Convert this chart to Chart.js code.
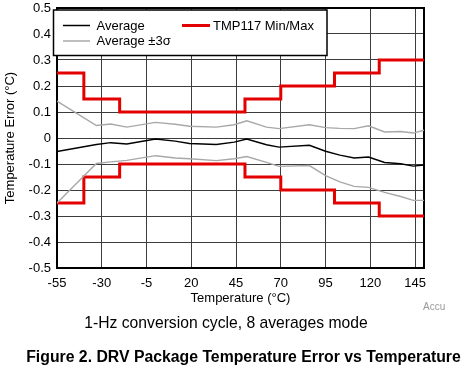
<!DOCTYPE html>
<html>
<head>
<meta charset="utf-8">
<script src="https://cdn.jsdelivr.net/npm/chart.js@4/dist/chart.umd.min.js"></script>
<style>
  html, body { margin: 0; padding: 0; background: #fff; }
  body { width: 464px; height: 370px; position: relative; overflow: hidden; font-family: "Liberation Sans", Arial, sans-serif; }
  #wrap { position: absolute; left: 0; top: 0; width: 464px; height: 310px; }
  .cap { position: absolute; white-space: nowrap; color: #000; }
  #accu { left: 423px; top: 301px; font-size: 10px; color: #9a9a9a; }
  #sub { left: 0; width: 452px; text-align: center; top: 314px; font-size: 15.7px; }
  #fig { left: 0; width: 487px; text-align: center; top: 348px; font-size: 15.8px; font-weight: bold; }
</style>
</head>
<body>
<div id="wrap"><canvas id="c" width="464" height="310"></canvas></div>
<div class="cap" id="accu">Accu</div>
<div class="cap" id="sub">1-Hz conversion cycle, 8 averages mode</div>
<div class="cap" id="fig">Figure 2. DRV Package Temperature Error vs Temperature</div>
<script>
// ---- data ----
const xTicks = [-55, -30, -5, 20, 45, 70, 95, 120, 145];
const yTicks = [-0.5, -0.4, -0.3, -0.2, -0.1, 0, 0.1, 0.2, 0.3, 0.4, 0.5];

const stepTemps = [-55, -40, -20, 50, 70, 100, 125, 150];
const tmpMax = [0.25, 0.15, 0.10, 0.15, 0.20, 0.25, 0.30, 0.30];
const tmpMin = [-0.25, -0.15, -0.10, -0.15, -0.20, -0.25, -0.30, -0.30];

const curveTemps = [-55, -33, -25, -16, 0, 11, 19, 34, 44, 51, 62, 69, 86, 95, 103, 111, 119, 128, 137, 144, 150];
const average = [-0.052, -0.025, -0.018, -0.023, -0.004, -0.012, -0.021, -0.025, -0.016, -0.004, -0.026, -0.035, -0.028, -0.051, -0.066, -0.077, -0.073, -0.094, -0.099, -0.108, -0.104];
const avgPlus3s = [0.142, 0.048, 0.054, 0.042, 0.060, 0.053, 0.045, 0.042, 0.051, 0.066, 0.042, 0.036, 0.051, 0.040, 0.037, 0.036, 0.047, 0.023, 0.025, 0.019, 0.030];
const avgMinus3s = [-0.250, -0.098, -0.092, -0.086, -0.068, -0.077, -0.080, -0.087, -0.080, -0.071, -0.094, -0.109, -0.106, -0.145, -0.169, -0.186, -0.190, -0.209, -0.225, -0.240, -0.240];

const labels = { avg: 'Average', sigma: 'Average \u00B13\u03C3', minmax: 'TMP117 Min/Max' };

// ---- styles ----
const RED = '#e30000', GRAY = '#a8a8a8', BLACK = '#000000', GRID = '#3c3c3c';
const FONT = '"Liberation Sans", Arial, sans-serif';

const pts = (xs, ys) => xs.map((x, i) => ({ x: x, y: ys[i] }));

const frameAndLegend = {
  id: 'frameAndLegend',
  beforeDatasetsDraw(chart) {
    const { ctx, chartArea: a } = chart;
    ctx.save();
    ctx.strokeStyle = '#000';
    ctx.lineWidth = 2;
    ctx.strokeRect(a.left, a.top, a.right - a.left, a.bottom - a.top);
    ctx.restore();
  },
  afterDraw(chart) {
    const { ctx, chartArea: a } = chart;
    ctx.save();
    const bx = a.left - 3.5, by = a.top + 2, bw = 327 - bx, bh = 55.5 - by;
    ctx.fillStyle = '#fff';
    ctx.fillRect(bx, by, bw, bh);
    ctx.strokeStyle = '#000';
    ctx.lineWidth = 1.5;
    ctx.strokeRect(bx, by, bw, bh);
    const items = [
      { x: 63, y: 25.5, len: 27, color: BLACK, w: 1.5, text: labels.avg, tx: 96.5 },
      { x: 63, y: 41, len: 27, color: GRAY, w: 1.5, text: labels.sigma, tx: 96.5 },
      { x: 182, y: 25.5, len: 28, color: RED, w: 3, text: labels.minmax, tx: 213 }
    ];
    ctx.font = '13px ' + FONT;
    ctx.textBaseline = 'middle';
    ctx.textAlign = 'left';
    items.forEach(it => {
      ctx.strokeStyle = it.color;
      ctx.lineWidth = it.w;
      ctx.beginPath();
      ctx.moveTo(it.x, it.y);
      ctx.lineTo(it.x + it.len, it.y);
      ctx.stroke();
      ctx.fillStyle = '#000';
      ctx.fillText(it.text, it.tx, it.y + 0.5);
    });
    ctx.restore();
  }
};

new Chart(document.getElementById('c'), {
  type: 'line',
  data: {
    datasets: [
      { label: labels.sigma, data: pts(curveTemps, avgPlus3s), borderColor: GRAY, borderWidth: 1.4, pointRadius: 0, tension: 0 },
      { label: labels.sigma, data: pts(curveTemps, avgMinus3s), borderColor: GRAY, borderWidth: 1.4, pointRadius: 0, tension: 0 },
      { label: labels.avg, data: pts(curveTemps, average), borderColor: BLACK, borderWidth: 1.4, pointRadius: 0, tension: 0 },
      { label: labels.minmax, data: pts(stepTemps, tmpMax), borderColor: RED, borderWidth: 3, pointRadius: 0, stepped: 'before' },
      { label: labels.minmax, data: pts(stepTemps, tmpMin), borderColor: RED, borderWidth: 3, pointRadius: 0, stepped: 'before' }
    ]
  },
  options: {
    responsive: false,
    animation: false,
    devicePixelRatio: 1,
    layout: { padding: { left: 0, top: 8, right: 40, bottom: 0 } },
    plugins: { legend: { display: false }, tooltip: { enabled: false } },
    scales: {
      x: {
        type: 'linear', min: -55, max: 150,
        afterBuildTicks: s => { s.ticks = xTicks.map(v => ({ value: v })); },
        afterFit: s => { s.height = 42; s.paddingLeft = 0; s.paddingRight = 0; },
        grid: { color: GRID, lineWidth: 1, drawTicks: false },
        border: { display: false },
        ticks: { color: '#000', font: { family: FONT, size: 13 }, padding: 8, maxRotation: 0, autoSkip: false },
        title: { display: true, text: 'Temperature (\u00B0C)', color: '#000', font: { family: FONT, size: 13 }, padding: { top: 0, bottom: 4 } }
      },
      y: {
        type: 'linear', min: -0.5, max: 0.5,
        afterBuildTicks: s => { s.ticks = yTicks.map(v => ({ value: v })); },
        afterFit: s => { s.width = 57; s.paddingTop = 0; s.paddingBottom = 0; },
        grid: { color: GRID, lineWidth: 1, drawTicks: false },
        border: { display: false },
        ticks: { color: '#000', font: { family: FONT, size: 13 }, padding: 6, autoSkip: false, callback: v => String(Number(v.toFixed(1))) },
        title: { display: true, text: 'Temperature Error (\u00B0C)', color: '#000', font: { family: FONT, size: 13 }, padding: { top: 3, bottom: 0 } }
      }
    }
  },
  plugins: [frameAndLegend]
});
</script>
</body>
</html>
